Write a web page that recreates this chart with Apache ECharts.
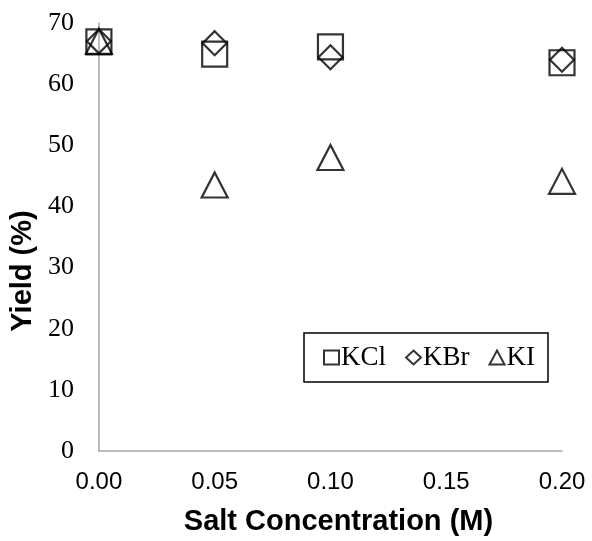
<!DOCTYPE html>
<html>
<head>
<meta charset="utf-8">
<script src="https://cdn.jsdelivr.net/npm/echarts@6/dist/echarts.min.js"></script>
<style>
html, body { margin: 0; padding: 0; background: #fff; }
#chart { width: 592px; height: 541px; }
</style>
</head>
<body>
<div id="chart"></div>
<script>
// salt concentration (M)
var conc = [0.00, 0.05, 0.10, 0.20];
// yield (%)
var kcl = [66.9, 64.9, 66.1, 63.5];
var kbr = [67.0, 66.7, 64.4, 64.0];
var ki = [67.0, 43.5, 48.0, 44.1];

function pairs(ys) {
    return conc.map(function(x, i) { return [x, ys[i]]; });
}

var myChart = echarts.init(document.getElementById('chart'));

var markStyle = {
    color: 'rgba(0,0,0,0)',
    borderColor: '#000',
    borderWidth: 2.2
};

var option = {
    backgroundColor: '#fff',
    animation: false,
    grid: { left: 98, right: 30, top: 23, bottom: 89 },
    legend: {
        right: 44,
        top: 333,
        padding: [11, 13, 11, 19],
        borderColor: '#000',
        borderWidth: 1.5,
        itemGap: 19,
        itemWidth: 15,
        itemHeight: 14,
        textStyle: { fontFamily: 'Liberation Serif', fontSize: 27, color: '#000', padding: [0, 0, 0, -3] },
        data: [
            { name: 'KCl', icon: 'rect' },
            { name: 'KBr', icon: 'diamond' },
            { name: 'KI', icon: 'triangle' }
        ]
    },
    xAxis: {
        type: 'value',
        min: 0,
        max: 0.2,
        interval: 0.05,
        name: 'Salt Concentration (M)',
        nameLocation: 'middle',
        nameGap: 56,
        nameTextStyle: { fontFamily: 'Liberation Sans', fontWeight: 'bold', fontSize: 29, color: '#000', padding: [0, 0, 0, 16] },
        axisLine: { lineStyle: { color: '#a6a6a6', width: 1.5 } },
        axisTick: { show: false },
        splitLine: { show: false },
        axisLabel: {
            margin: 19,
            fontFamily: 'Liberation Sans',
            fontSize: 24,
            color: '#000',
            formatter: function(v) { return v.toFixed(2); }
        }
    },
    yAxis: {
        type: 'value',
        min: 0,
        max: 70,
        interval: 10,
        name: 'Yield (%)',
        nameLocation: 'middle',
        nameGap: 55,
        nameTextStyle: { fontFamily: 'Liberation Sans', fontWeight: 'bold', fontSize: 29, color: '#000', padding: [0, 68, 0, 0] },
        axisLine: { show: true, lineStyle: { color: '#a6a6a6', width: 1.5 } },
        axisTick: { show: false },
        splitLine: { show: false },
        axisLabel: {
            margin: 25,
            fontFamily: 'Liberation Serif',
            fontSize: 26,
            color: '#000'
        }
    },
    series: [
        {
            name: 'KCl',
            type: 'scatter',
            symbol: 'rect',
            symbolSize: 25,
            itemStyle: markStyle,
            data: pairs(kcl)
        },
        {
            name: 'KBr',
            type: 'scatter',
            symbol: 'diamond',
            symbolSize: [24, 24],
            itemStyle: markStyle,
            data: pairs(kbr)
        },
        {
            name: 'KI',
            type: 'scatter',
            symbol: 'triangle',
            symbolSize: [26, 25],
            itemStyle: markStyle,
            data: pairs(ki)
        }
    ]
};

myChart.setOption(option);
</script>
</body>
</html>
